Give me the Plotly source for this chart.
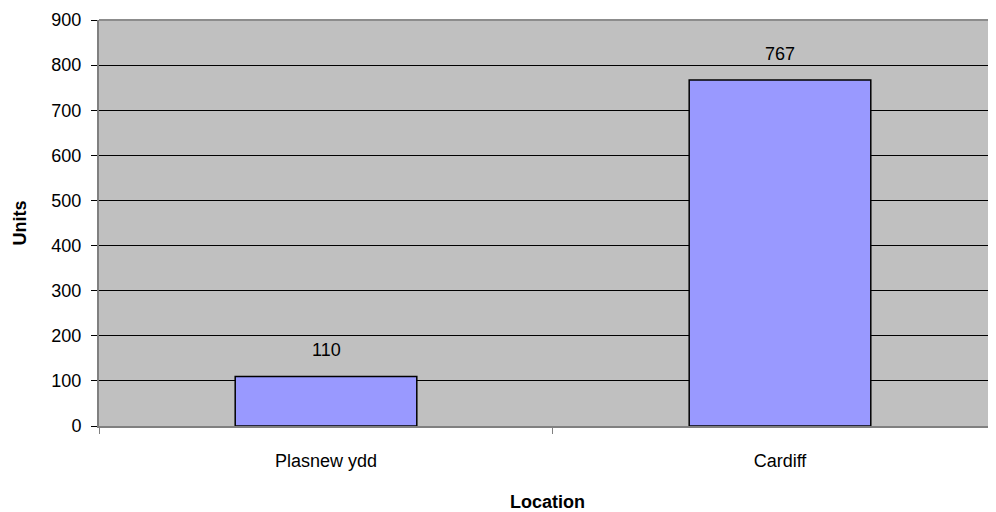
import plotly.graph_objects as go

categories = ["Plasnew ydd", "Cardiff"]
values = [110, 767]
y_ticks = [0, 100, 200, 300, 400, 500, 600, 700, 800, 900]

FONT = "Liberation Sans, Arial, sans-serif"

fig = go.Figure()
fig.add_trace(go.Bar(
    x=categories, y=values,
    marker=dict(color="#9999ff", line=dict(color="#000000", width=1.5)),
    width=0.4,
    hoverinfo="skip",
))

for c, v in zip(categories, values):
    fig.add_annotation(x=c, y=v, text=str(v), showarrow=False,
                       yanchor="bottom", yshift=14,
                       font=dict(family=FONT, size=18, color="#000000"))

fig.add_shape(type="line", xref="paper", yref="paper", x0=0, x1=1, y0=1, y1=1,
              line=dict(color="#8c8c8c", width=2))

fig.update_layout(
    width=988, height=504,
    margin=dict(l=91, r=0, t=12, b=86),
    paper_bgcolor="#ffffff",
    plot_bgcolor="#c0c0c0",
    showlegend=False,
    font=dict(family=FONT, size=18, color="#000000"),
    xaxis=dict(
        type="category",
        range=[-0.5, 1.4758],
        tickson="boundaries",
        ticks="outside", ticklen=6, tickcolor="#808080", tickwidth=1,
        showline=True, linecolor="#808080", linewidth=2,
        showgrid=False,
        ticklabelstandoff=17,
        tickfont=dict(family=FONT, size=18),
        title=dict(text="<b>Location</b>", font=dict(family=FONT, size=18), standoff=26),
    ),
    yaxis=dict(
        range=[0, 900],
        tickvals=y_ticks,
        ticks="outside", ticklen=6, tickcolor="#000000", tickwidth=1,
        showline=True, linecolor="#808080", linewidth=2,
        showgrid=True, gridcolor="#000000", gridwidth=1,
        zeroline=False,
        ticklabelstandoff=6,
        tickfont=dict(family=FONT, size=18),
        title=dict(text="<b>Units</b>", font=dict(family=FONT, size=18), standoff=20),
    ),
)

fig.write_html("out.html")
